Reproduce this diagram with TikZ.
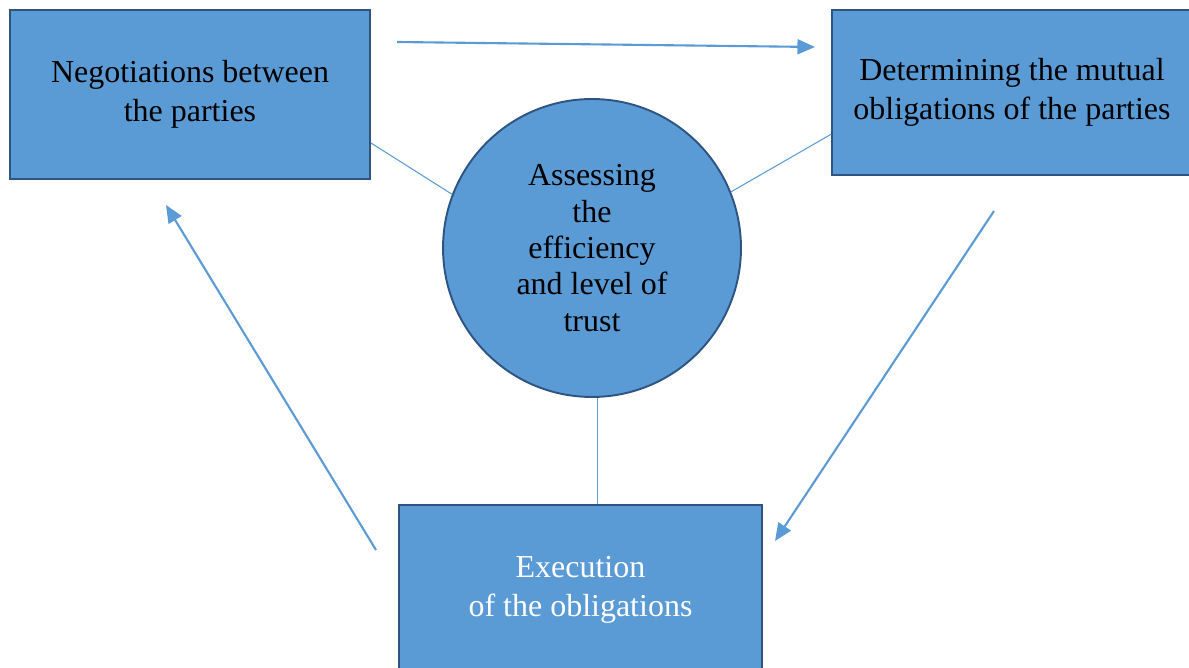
\documentclass[tikz,border=0pt]{standalone}
\usepackage{fontspec}
\setmainfont{Liberation Serif}
\usetikzlibrary{arrows.meta}
\definecolor{boxfill}{HTML}{5B9BD5}
\definecolor{boxedge}{RGB}{46,84,130}
\definecolor{linkblue}{HTML}{5B9BD5}
\tikzset{
  stagebox/.style={draw=boxedge,fill=boxfill,line width=1.1pt,align=center,
    font=\fontsize{18.2}{22.2}\selectfont},
  centrecircle/.style={circle,draw=boxedge,fill=boxfill,line width=1.1pt,align=center,
    minimum size=5.96cm,inner sep=0pt,font=\fontsize{18.2}{20.7}\selectfont},
  flowarrow/.style={draw=linkblue,line width=1.2pt,-{Triangle[length=10pt,width=8.5pt]}},
  thinlink/.style={draw=linkblue,line width=0.6pt}
}
\begin{document}
\begin{tikzpicture}[x=0.02cm,y=-0.02cm]
\useasboundingbox (0,0) rectangle (1189,668);
\node[stagebox,minimum width=7.2cm,minimum height=3.38cm] (nego) at (190,94.5)
  {Negotiations between\\the parties};
\node[stagebox,minimum width=7.2cm,minimum height=3.3cm] (oblig) at (1012,92.5)
  {Determining the mutual\\obligations of the parties};
\node[stagebox,minimum width=7.26cm,minimum height=3.4cm,text=white] (exec) at (580.5,590)
  {Execution\\of the obligations};
\node[centrecircle] (assess) at (592,248)
  {Assessing\\the\\efficiency\\and level of\\trust};
% thin links to the centre
\draw[thinlink] (nego.-15.8) -- (assess.159);
\draw[thinlink] (assess.22.8) -- (oblig.193.9);
\draw[thinlink] (assess.-88.5) -- (assess.-88.5 |- exec.north);
% cycle arrows
\coordinate (ab1) at (397,42);
\coordinate (ab2) at (815,47);
\coordinate (bc1) at (994,211);
\coordinate (bc2) at (775,541);
\coordinate (ca1) at (376,550);
\coordinate (ca2) at (166,205);
\draw[flowarrow] (ab1) -- (ab2);
\draw[flowarrow] (bc1) -- (bc2);
\draw[flowarrow] (ca1) -- (ca2);
\end{tikzpicture}
\end{document}
